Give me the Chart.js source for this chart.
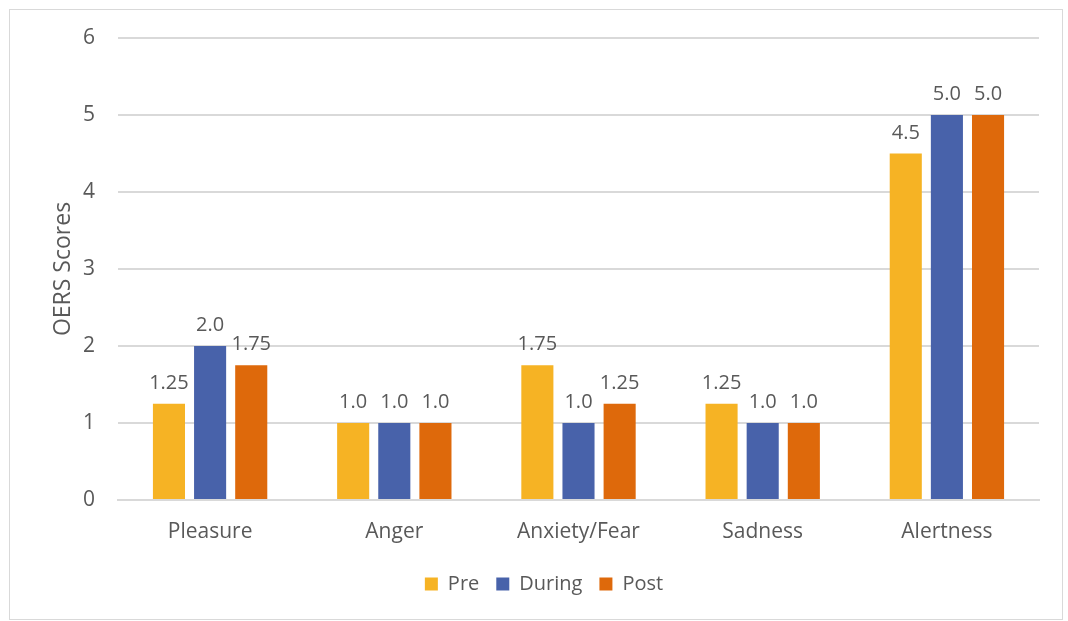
<!DOCTYPE html>
<html lang="en">
<head>
    <meta charset="UTF-8">
    <title>OERS Scores</title>
    <script src="https://cdn.jsdelivr.net/npm/chart.js"></script>
    <style>
        html, body {
            margin: 0;
            padding: 0;
            background: white;
        }
        #frame {
            position: absolute;
            left: 9px;
            top: 9px;
            width: 1052px;
            height: 609px;
            border: 1px solid #d9d9d9;
        }
        #chart-container {
            position: absolute;
            left: 0;
            top: 0;
            width: 1068px;
            height: 621px;
        }
    </style>
</head>
<body>
    <div id="frame"></div>
    <div id="chart-container">
        <canvas id="myChart"></canvas>
    </div>

    <script>
        const categories = ['Pleasure', 'Anger', 'Anxiety/Fear', 'Sadness', 'Alertness'];
        const preScores = [1.25, 1.0, 1.75, 1.25, 4.5];
        const duringScores = [2.0, 1.0, 1.0, 1.0, 5.0];
        const postScores = [1.75, 1.0, 1.25, 1.0, 5.0];
        const yTicks = [0, 1, 2, 3, 4, 5, 6];

        const textColor = '#595959';
        const fontFamily = "'Open Sans', sans-serif";

        // value labels above each bar: one decimal, two when needed (1.25, 1.75)
        function fmt(v) {
            return Number.isInteger(v * 10) ? v.toFixed(1) : v.toFixed(2);
        }

        const barLabels = {
            id: 'barLabels',
            afterDatasetsDraw(chart) {
                const ctx = chart.ctx;
                ctx.save();
                ctx.font = '20px ' + fontFamily;
                ctx.fillStyle = textColor;
                ctx.textAlign = 'center';
                ctx.textBaseline = 'alphabetic';
                chart.data.datasets.forEach((ds, i) => {
                    const meta = chart.getDatasetMeta(i);
                    meta.data.forEach((bar, j) => {
                        ctx.fillText(fmt(ds.data[j]), bar.x, bar.y - 15);
                    });
                });
                ctx.restore();
            }
        };

        const ctx = document.getElementById('myChart').getContext('2d');
        const data = {
            labels: categories,
            datasets: [
                { label: 'Pre', data: preScores, backgroundColor: '#f6b324' },
                { label: 'During', data: duringScores, backgroundColor: '#4862aa' },
                { label: 'Post', data: postScores, backgroundColor: '#de690b' }
            ]
        };

        const config = {
            type: 'bar',
            data: data,
            options: {
                responsive: true,
                maintainAspectRatio: false,
                animation: false,
                categoryPercentage: 0.67,
                barPercentage: 0.78,
                layout: {
                    // left padding also pushes the legend right
                    padding: { left: 49, right: 29, top: 38, bottom: 17 }
                },
                scales: {
                    x: {
                        grid: { display: false, drawTicks: false },
                        border: { color: '#d9d9d9', width: 2 },
                        ticks: {
                            color: textColor,
                            font: { family: fontFamily, size: 21 },
                            padding: 19
                        },
                        afterFit(scale) { scale.height = 57; }
                    },
                    y: {
                        min: 0,
                        max: 6,
                        afterBuildTicks(scale) {
                            scale.ticks = yTicks.map(v => ({ value: v }));
                        },
                        grid: { color: '#d9d9d9', lineWidth: 2, drawTicks: false },
                        border: { display: false },
                        ticks: {
                            color: textColor,
                            font: { family: fontFamily, size: 21 },
                            padding: 23
                        },
                        title: {
                            display: true,
                            text: 'OERS Scores',
                            color: textColor,
                            font: { family: fontFamily, size: 23 },
                            padding: { top: 1, bottom: 0 }
                        },
                        afterFit(scale) { scale.width = 69; }
                    }
                },
                plugins: {
                    legend: {
                        position: 'bottom',
                        labels: {
                            color: textColor,
                            font: { family: fontFamily, size: 20 },
                            boxWidth: 13,
                            boxHeight: 13,
                            padding: 17
                        }
                    },
                    tooltip: { enabled: false }
                }
            },
            plugins: [barLabels]
        };

        const myChart = new Chart(ctx, config);
    </script>
</body>
</html>
